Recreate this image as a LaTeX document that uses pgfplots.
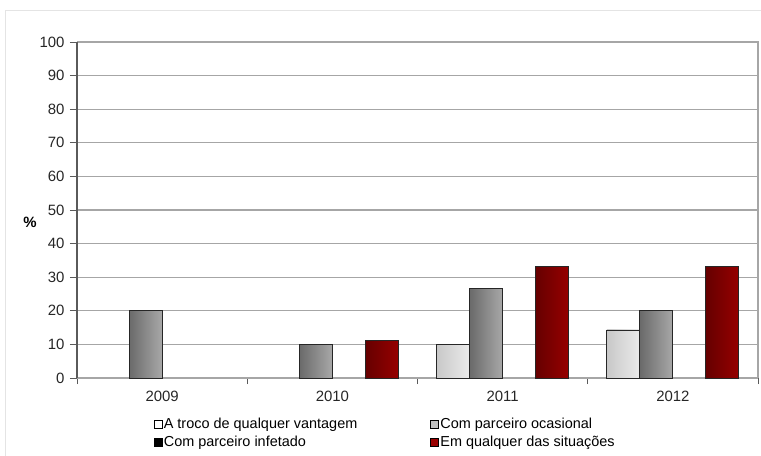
\documentclass[border=0pt]{standalone}
\usepackage{pgfplots}
\pgfplotsset{compat=1.18}
\usepackage{fontspec}
\setmainfont{Liberation Sans}
\definecolor{gridc}{HTML}{A6A6A6}
\definecolor{axc}{HTML}{5A5A5A}
\definecolor{framec}{HTML}{E4E4E4}
\definecolor{redd}{HTML}{660000}
\definecolor{redm}{HTML}{C01A1A}
\definecolor{redl}{HTML}{960000}
\definecolor{legred}{HTML}{990000}
\definecolor{greyd}{HTML}{6A6A6A}
\definecolor{greym}{HTML}{DCDCDC}
\definecolor{greyr}{HTML}{A8A8A8}
\definecolor{leggrey}{HTML}{C0C0C0}
\definecolor{whited}{HTML}{C8C8C8}
\pgfplotsset{
  whitebar/.style={bar shift=-49.5bp, draw=black!85, line width=0.8bp, left color=whited, middle color=white, right color=white!92!black, forget plot},
  greybar/.style={bar shift=-16.5bp, draw=black!85, line width=0.8bp, left color=greyd, middle color=greym, right color=greyr, forget plot},
  redbar/.style={bar shift=49.5bp, draw=black!85, line width=0.8bp, left color=redd, middle color=redm, right color=redl, forget plot},
}
\begin{document}
\begin{tikzpicture}
\useasboundingbox (0,0) rectangle (761bp,456bp);
\draw[framec, line width=1bp] (5.5bp,0) -- (5.5bp,445.5bp) -- (761bp,445.5bp);
\begin{axis}[
  at={(77bp,78bp)}, anchor=south west,
  scale only axis, width=681bp, height=336bp,
  xmin=-0.5, xmax=3.5, ymin=0, ymax=100,
  ytick={0,10,...,100},
  xtick={0,1,2,3},
  xticklabels={2009,2010,2011,2012},
  minor xtick={-0.5,0.5,1.5,2.5,3.5},
  major x tick style={draw=none},
  minor x tick style={draw=axc, line width=0.8bp},
  minor tick length=6bp,
  major tick length=7bp,
  tick align=outside,
  xtick pos=bottom, ytick pos=left,
  y tick style={draw=axc, line width=0.8bp},
  ymajorgrids, grid style={gridc, line width=1.2bp},
  axis line style={draw=none},
  tick label style={font=\fontsize{15}{16}\selectfont, text=black!85},
  yticklabel style={xshift=-2bp},
  xticklabel style={yshift=-3bp},
  /pgf/number format/assume math mode=true,
  ylabel={\textbf{\%}},
  ylabel style={at={(axis description cs:-0.069,0.464)}, rotate=-90, anchor=center, font=\fontsize{15}{16}\selectfont},
  ybar, bar width=33bp,
  legend columns=2,
  legend cell align=left,
  legend style={draw=none, fill=none, at={(axis description cs:0.108,-0.108)}, anchor=north west,
    font=\fontsize{14.5}{15}\selectfont, row sep=3.5bp,
    nodes={inner sep=1.5bp}},
  clip=false,
]
\draw[gridc, line width=1.2bp] (rel axis cs:0,1) -- (rel axis cs:1,1) -- (rel axis cs:1,0);
\draw[gridc, line width=1.2bp] (rel axis cs:0,0) -- (rel axis cs:1,0);
\draw[axc, line width=1.2bp] (rel axis cs:0,0) -- (rel axis cs:0,1);
% A troco de qualquer vantagem (white)
\addplot[whitebar] coordinates {(2,10)};
\addplot[whitebar] coordinates {(3,14.3)};
% Com parceiro ocasional (grey)
\addplot[greybar] coordinates {(0,20)};
\addplot[greybar] coordinates {(1,10)};
\addplot[greybar] coordinates {(2,26.7)};
\addplot[greybar] coordinates {(3,20)};
% Em qualquer das situações (red)
\addplot[redbar] coordinates {(1,11.1)};
\addplot[redbar] coordinates {(2,33.3)};
\addplot[redbar] coordinates {(3,33.3)};
% legend
\addlegendimage{legend image code/.code={\draw[black, line width=0.6bp, fill=white] (0bp,-4bp) rectangle (8bp,4bp);}}
\addlegendentry{\makebox[265bp][l]{A troco de qualquer vantagem}}
\addlegendimage{legend image code/.code={\draw[black, line width=0.6bp, fill=leggrey] (0bp,-4bp) rectangle (8bp,4bp);}}
\addlegendentry{Com parceiro ocasional}
\addlegendimage{legend image code/.code={\draw[black, line width=0.6bp, fill=black] (0bp,-4bp) rectangle (8bp,4bp);}}
\addlegendentry{\makebox[265bp][l]{Com parceiro infetado}}
\addlegendimage{legend image code/.code={\draw[black, line width=0.6bp, fill=legred] (0bp,-4bp) rectangle (8bp,4bp);}}
\addlegendentry{Em qualquer das situações}
\end{axis}
\end{tikzpicture}
\end{document}
